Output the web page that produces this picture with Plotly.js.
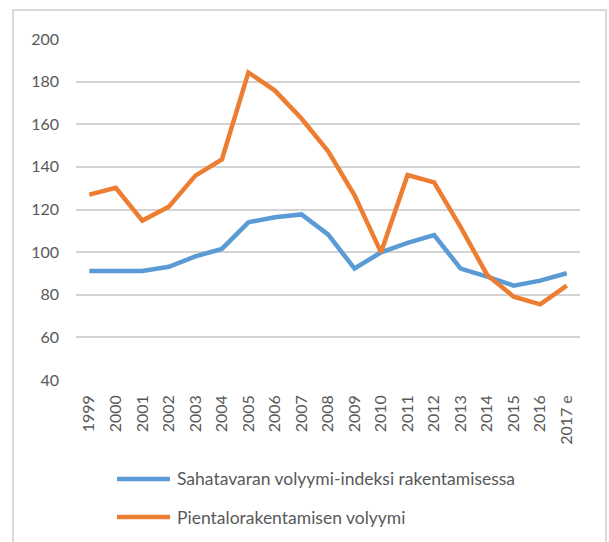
<!DOCTYPE html>
<html>
<head>
<meta charset="utf-8">
<script src="https://cdn.plot.ly/plotly-3.0.1.min.js"></script>
<style>html,body{margin:0;padding:0;background:#fff;}#chart{width:609px;height:542px;}</style>
</head>
<body>
<div id="chart"></div>
<script>
const years = ["1999","2000","2001","2002","2003","2004","2005","2006","2007","2008","2009","2010","2011","2012","2013","2014","2015","2016","2017 e"];
const sahatavaraIndex = [91.1,91.1,91.1,93.1,98,101.5,114,116.4,117.7,108.3,92.3,99.9,104.3,108,92.3,88.5,84.3,86.6,90.1];
const pientaloVolyymi = [127,130.2,114.8,121.3,135.9,143.5,184.3,175.8,162.7,147.4,126.7,99.9,136.2,132.7,111.7,89.3,79.1,75.5,84.3];
const seriesNames = ["Sahatavaran volyymi-indeksi rakentamisessa","Pientalorakentamisen volyymi"];
const seriesColors = ["#5B9BD5","#ED7D31"];
const yTicks = [40,60,80,100,120,140,160,180,200];

const font = {family: "Lato, 'Open Sans', sans-serif", size: 16, color: "#595959"};
const legendFont = {family: "Lato, 'Open Sans', sans-serif", size: 17.5, color: "#595959"};

const series = [sahatavaraIndex, pientaloVolyymi];
const traces = series.map((vals, i) => ({
  x: years, y: vals, name: seriesNames[i], type: "scatter", mode: "lines",
  line: {color: seriesColors[i], width: 4.5}, showlegend: false
}));

// custom legend (paper coords relative to plot area: x 76..580, y 39..380)
const legendY = [-0.2903, -0.4018];
const shapes = [
  {type: "rect", xref: "paper", yref: "paper", x0: -0.125, x1: 1.0516, y0: -0.49, y1: 1.085,
   line: {color: "#d9d9d9", width: 2}, fillcolor: "rgba(0,0,0,0)", layer: "below"}
];
const annotations = [];
seriesNames.forEach((nm, i) => {
  shapes.push({type: "line", xref: "paper", yref: "paper", x0: 0.0813, x1: 0.1865,
               y0: legendY[i], y1: legendY[i], line: {color: seriesColors[i], width: 4.5}});
  annotations.push({xref: "paper", yref: "paper", x: 0.1964, y: legendY[i], xanchor: "left",
                    yanchor: "middle", text: nm, showarrow: false, font: legendFont});
});

const layout = {
  width: 609, height: 542,
  margin: {l: 76, r: 29, t: 39, b: 162},
  paper_bgcolor: "#fff", plot_bgcolor: "#fff",
  font: font,
  showlegend: false,
  xaxis: {type: "category", range: [-0.5, 18.5], tickangle: -90, showgrid: false,
          showline: false, zeroline: false, ticks: "", tickfont: font, ticklabelstandoff: 11,
          fixedrange: true, automargin: false},
  yaxis: {range: [40, 200], tickvals: yTicks, ticktext: yTicks.map(String), showgrid: true,
          gridcolor: "#d4d4d4", gridwidth: 2, zeroline: false, showline: false, ticks: "",
          tickfont: font, ticklabelstandoff: 16, fixedrange: true, automargin: false},
  shapes: shapes,
  annotations: annotations
};

Plotly.newPlot("chart", traces, layout, {displayModeBar: false, staticPlot: true});
</script>
</body>
</html>
